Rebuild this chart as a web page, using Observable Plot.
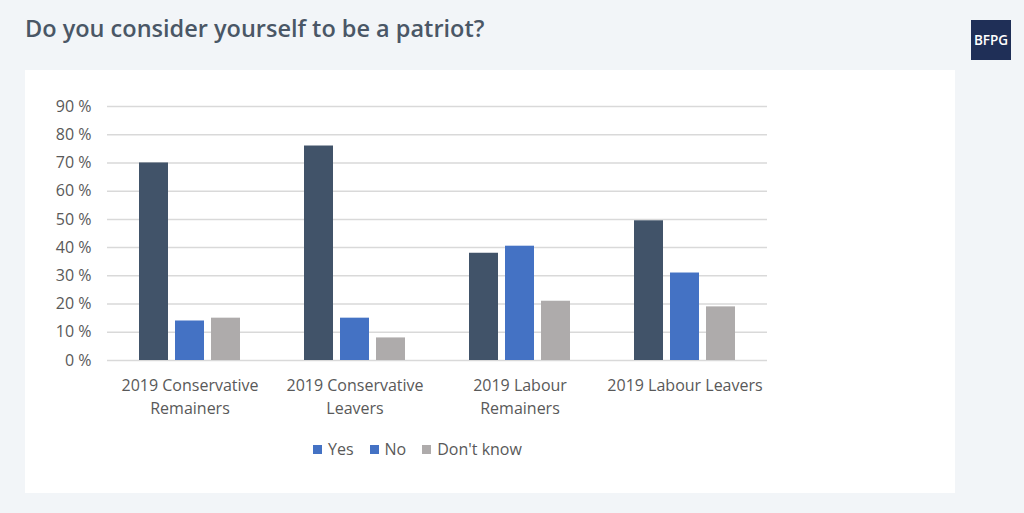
<!DOCTYPE html>
<html>
<head>
<meta charset="utf-8">
<script src="https://cdn.jsdelivr.net/npm/d3@7"></script>
<script src="https://cdn.jsdelivr.net/npm/@observablehq/plot@0.6"></script>
<style>
  html, body { margin: 0; padding: 0; }
  body { width: 1024px; height: 513px; background: #f2f5f8; position: relative; overflow: hidden; font-family: "Open Sans", sans-serif; }
  #title { position: absolute; left: 25px; top: 12px; font-size: 23.5px; font-weight: 600; color: #4a5766; }
  #logo { position: absolute; left: 971px; top: 20px; width: 40px; height: 40px; background: #1f2f57; color: #fff; font-size: 13.5px; font-weight: 600; display: flex; align-items: center; justify-content: center; }
  #panel { position: absolute; left: 25px; top: 70px; width: 930px; height: 423px; background: #ffffff; }
  #chart { position: absolute; left: 0; top: 0; }
  #legend { position: absolute; left: 288px; top: 368px; display: flex; align-items: center; font-size: 16px; color: #595959; }
  .item { display: flex; align-items: center; margin-right: 16px; }
  .sw { width: 9px; height: 9px; margin-right: 6px; }
</style>
</head>
<body>
<div id="title">Do you consider yourself to be a patriot?</div>
<div id="logo">BFPG</div>
<div id="panel">
  <div id="chart"></div>
  <div id="legend"></div>
</div>
<script>
const categories = ["2019 Conservative Remainers", "2019 Conservative Leavers", "2019 Labour Remainers", "2019 Labour Leavers"];
const categoryLabels = ["2019 Conservative\nRemainers", "2019 Conservative\nLeavers", "2019 Labour\nRemainers", "2019 Labour Leavers"];
const series = ["Yes", "No", "Don't know"];
const yesValues = [70, 76, 38, 49.5];
const noValues = [14, 15, 40.5, 31];
const dontKnowValues = [15, 8, 21, 19];
const seriesColors = ["#415369", "#4472c4", "#aeabab"];
const legendColors = ["#4472c4", "#4472c4", "#aeabab"];
const yTicks = [0, 10, 20, 30, 40, 50, 60, 70, 80, 90];

const valuesBySeries = [yesValues, noValues, dontKnowValues];
const data = [];
categories.forEach((c, i) => {
  series.forEach((s, j) => data.push({group: c, series: s, value: valuesBySeries[j][i]}));
});
const labelOf = new Map(categories.map((c, i) => [c, categoryLabels[i]]));

const chart = Plot.plot({
  width: 930,
  height: 360,
  marginLeft: 80,
  marginRight: 187,
  marginTop: 36,
  marginBottom: 70,
  style: {fontFamily: "Open Sans, sans-serif", fontSize: "15px", color: "#595959", background: "transparent"},
  fx: {domain: categories, padding: 0, label: null},
  x: {domain: series, paddingInner: 0.2, paddingOuter: 0.86, axis: null},
  y: {domain: [0, 90], label: null},
  color: {domain: series, range: seriesColors},
  marks: [
    Plot.gridY(yTicks, {stroke: "#d9d9d9", strokeOpacity: 1, strokeWidth: 1.5}),
    Plot.barY(data, {fx: "group", x: "series", y: "value", fill: "series"}),
    Plot.axisY(yTicks, {tickSize: 0, tickPadding: 16, tickFormat: d => d + " %", fontSize: 16, fill: "#595959", label: null}),
    Plot.axisFx({anchor: "bottom", tickSize: 0, tickPadding: 14, tickFormat: d => labelOf.get(d), fontSize: 16, lineHeight: 1.45, fill: "#595959", label: null})
  ]
});
document.getElementById("chart").appendChild(chart);

const legend = document.getElementById("legend");
series.forEach((s, i) => {
  const item = document.createElement("div");
  item.className = "item";
  const sw = document.createElement("div");
  sw.className = "sw";
  sw.style.background = legendColors[i];
  const t = document.createElement("span");
  t.textContent = s;
  item.appendChild(sw);
  item.appendChild(t);
  legend.appendChild(item);
});
</script>
</body>
</html>
